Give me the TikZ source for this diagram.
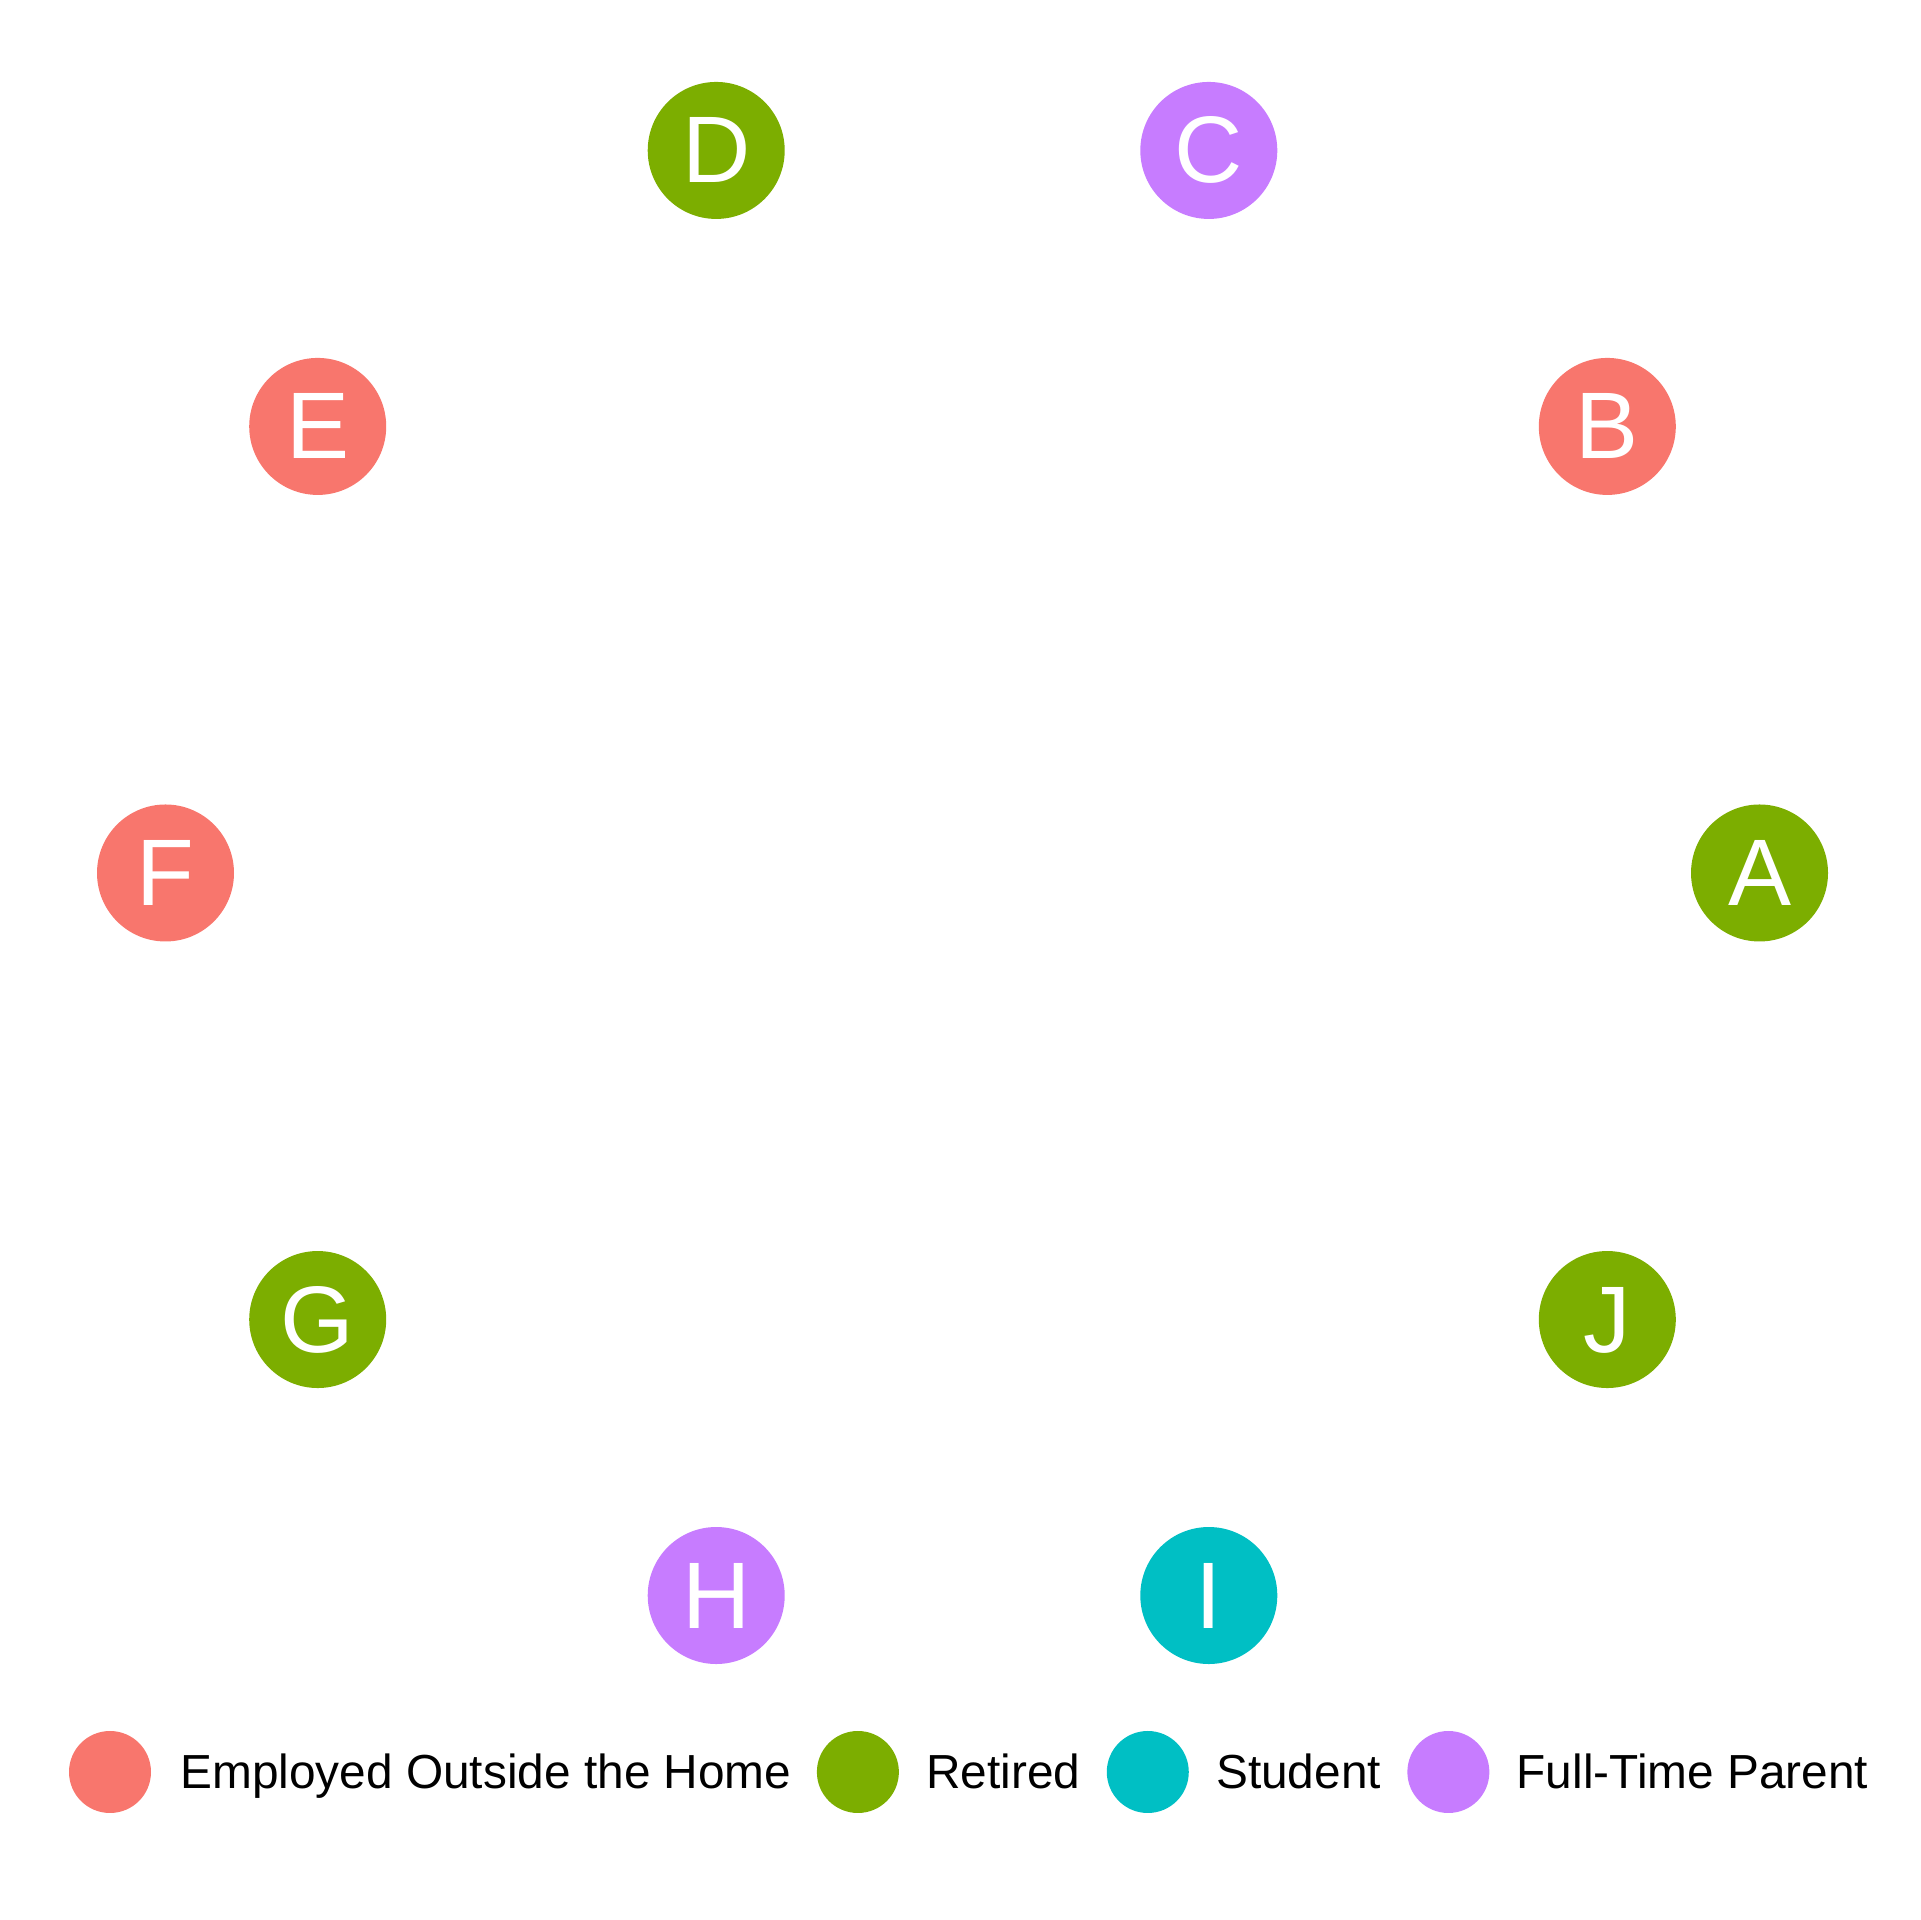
\documentclass[tikz,border=0pt]{standalone}
\usepackage{fontspec}
\setmainfont{Liberation Sans}
\usetikzlibrary{positioning}
\definecolor{employed}{HTML}{F8766D}
\definecolor{retired}{HTML}{7CAE00}
\definecolor{student}{HTML}{00BFC4}
\definecolor{parent}{HTML}{C77CFF}
\begin{document}
\begin{tikzpicture}[line join=round,line cap=round,
	vertex/.style={circle,fill=#1,minimum size=1.37cm,inner sep=0pt,text=white,
		font=\fontsize{26.9}{30}\selectfont,text height=18.5pt,text depth=0pt},
	keydot/.style={circle,fill=#1,minimum size=0.82cm,inner sep=0pt},
	keytext/.style={inner sep=0pt,font=\fontsize{13.6}{16}\selectfont,text height=9.4pt,text depth=0pt}]
	\useasboundingbox (0,0) rectangle (19.2,19.2);
	% cac dinh tren vong tron
	\begin{scope}[shift={(9.625,10.47)}]
		\foreach \name/\ang/\col in {A/0/retired,B/36/employed,C/72/parent,D/108/retired,E/144/employed,
			F/180/employed,G/216/retired,H/252/parent,I/288/student,J/324/retired}
			\node[vertex=\col] (\name) at (\ang:7.97cm and 7.597cm) {\name};
	\end{scope}
	% chu thich
	\node[keydot=employed] (kEmp) at (1.10,1.48) {};
	\node[keytext,right=0.28cm of kEmp] (tEmp) {Employed Outside the Home};
	\node[keydot=retired,right=0.24cm of tEmp] (kRet) {};
	\node[keytext,right=0.26cm of kRet] (tRet) {Retired};
	\node[keydot=student,right=0.25cm of tRet] (kStu) {};
	\node[keytext,right=0.26cm of kStu] (tStu) {Student};
	\node[keydot=parent,right=0.25cm of tStu] (kPar) {};
	\node[keytext,right=0.26cm of kPar] (tPar) {Full-Time Parent};
\end{tikzpicture}
\end{document}
